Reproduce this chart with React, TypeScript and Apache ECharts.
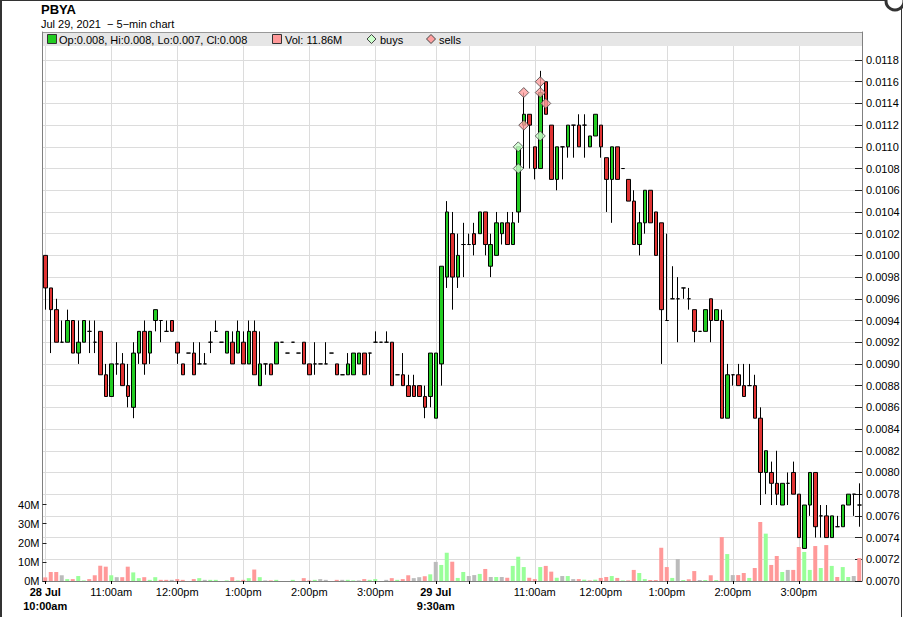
import React, { useEffect, useRef } from 'react';
import * as echarts from 'echarts';

const TITLE = 'PBYA';
const SUBTITLE = 'Jul 29, 2021  \u2212 5\u2212min chart';
const LEGEND_OHLC = 'Op:0.008, Hi:0.008, Lo:0.007, Cl:0.008';
const LEGEND_VOL = 'Vol: 11.86M';

// sessions: Jul 28 10:00am (71 bars), Jul 29 9:30am (78 bars), 5-min bars
const sessionDays = ['28 Jul', '29 Jul'];
const sessionStartMin = [600, 570];
const sessionBars = [71, 78];

const opens = [
  0.0100, 0.0097, 0.0095, 0.0092, 0.0092, 0.0094, 0.0091, 0.0092, 0.0093, 0.0092,
  0.0093, 0.0089, 0.0087, 0.0090, 0.0090, 0.0088, 0.0086, 0.0091, 0.0093, 0.0091,
  0.0094, 0.0094, 0.0093, 0.0094, 0.0092, 0.0090, 0.0091, 0.0091, 0.0090, 0.0090,
  0.0092, 0.0093, 0.0092, 0.0091, 0.0092, 0.0091, 0.0092, 0.0090, 0.0093, 0.0088,
  0.0090, 0.0090, 0.0090, 0.0092, 0.0091, 0.0092, 0.0091, 0.0092, 0.0090, 0.0090,
  0.0090, 0.0090, 0.0091, 0.0090, 0.0089, 0.0089, 0.0089, 0.0090, 0.0091, 0.0091,
  0.0092, 0.0092, 0.0092, 0.0092, 0.0089, 0.0089, 0.0088, 0.0088, 0.0088, 0.0087,
  0.0087, 0.0085, 0.0090, 0.0098, 0.0102, 0.0098, 0.0101, 0.0101, 0.0102, 0.0102,
  0.0104, 0.0099, 0.0100, 0.0102, 0.0103, 0.0101, 0.0104, 0.0112, 0.0113, 0.0110,
  0.0108, 0.0116, 0.0112, 0.0107, 0.0110, 0.0110, 0.0112, 0.0112, 0.0112, 0.0110,
  0.0111, 0.0112, 0.0109, 0.0107, 0.0110, 0.0108, 0.0107, 0.0105, 0.0101, 0.0103,
  0.0106, 0.0104, 0.0103, 0.0094, 0.0096, 0.0096, 0.0097, 0.0096, 0.0095, 0.0093,
  0.0093, 0.0096, 0.0094, 0.0094, 0.0085, 0.0089, 0.0089, 0.0088, 0.0088, 0.0088,
  0.0085, 0.0080, 0.0080, 0.0079, 0.0077, 0.0079, 0.0080, 0.0078, 0.0073, 0.0077,
  0.0080, 0.0076, 0.0076, 0.0074, 0.0075, 0.0075, 0.0077, 0.0078, 0.0077,
];
const closes = [
  0.0097, 0.0095, 0.0092, 0.0092, 0.0094, 0.0091, 0.0092, 0.0094, 0.0093, 0.0092,
  0.0089, 0.0087, 0.0090, 0.0090, 0.0088, 0.0087, 0.0091, 0.0093, 0.0090, 0.0093,
  0.0095, 0.0094, 0.0093, 0.0093, 0.0091, 0.0089, 0.0091, 0.0089, 0.0090, 0.0090,
  0.0092, 0.0093, 0.0092, 0.0093, 0.0090, 0.0093, 0.0090, 0.0093, 0.0089, 0.0090,
  0.0090, 0.0089, 0.0092, 0.0092, 0.0091, 0.0092, 0.0091, 0.0090, 0.0089, 0.0090,
  0.0090, 0.0090, 0.0091, 0.0089, 0.0089, 0.0090, 0.0091, 0.0091, 0.0089, 0.0091,
  0.0092, 0.0092, 0.0092, 0.0088, 0.0089, 0.0088, 0.0087, 0.0087, 0.0087, 0.0086,
  0.0091, 0.0091, 0.0099, 0.0104, 0.0098, 0.0100, 0.0101, 0.0101, 0.0101, 0.0104,
  0.0101, 0.0101, 0.0103, 0.0103, 0.0101, 0.0103, 0.0110, 0.0113, 0.0112, 0.0108,
  0.0115, 0.0113, 0.0107, 0.0110, 0.0110, 0.0112, 0.0112, 0.0110, 0.0112, 0.0111,
  0.0113, 0.0110, 0.0107, 0.0110, 0.0107, 0.0108, 0.0105, 0.0101, 0.0103, 0.0106,
  0.0103, 0.0100, 0.0095, 0.0094, 0.0096, 0.0096, 0.0097, 0.0096, 0.0093, 0.0093,
  0.0095, 0.0094, 0.0095, 0.0085, 0.0089, 0.0089, 0.0088, 0.0087, 0.0088, 0.0085,
  0.0080, 0.0082, 0.0079, 0.0078, 0.0079, 0.0079, 0.0078, 0.0074, 0.0077, 0.0080,
  0.0075, 0.0076, 0.0074, 0.0076, 0.0075, 0.0077, 0.0078, 0.0078, 0.0077,
];
const lows = [
  0.0095, 0.0091, 0.0092, 0.0092, 0.0092, 0.0091, 0.0090, 0.0092, 0.0091, 0.0091,
  0.0089, 0.0087, 0.0087, 0.0089, 0.0088, 0.0086, 0.0085, 0.0090, 0.0089, 0.0090,
  0.0093, 0.0092, 0.0093, 0.0093, 0.0090, 0.0089, 0.0091, 0.0089, 0.0090, 0.0090,
  0.0091, 0.0093, 0.0092, 0.0091, 0.0090, 0.0091, 0.0090, 0.0090, 0.0089, 0.0088,
  0.0089, 0.0089, 0.0090, 0.0092, 0.0091, 0.0092, 0.0091, 0.0090, 0.0089, 0.0089,
  0.0090, 0.0090, 0.0091, 0.0089, 0.0089, 0.0089, 0.0089, 0.0090, 0.0089, 0.0089,
  0.0092, 0.0092, 0.0092, 0.0088, 0.0089, 0.0088, 0.0087, 0.0087, 0.0087, 0.0085,
  0.0086, 0.0085, 0.0088, 0.0097, 0.0095, 0.0097, 0.0098, 0.0101, 0.0100, 0.0102,
  0.0100, 0.0098, 0.0100, 0.0101, 0.0101, 0.0101, 0.0103, 0.0108, 0.0108, 0.0107,
  0.0108, 0.0113, 0.0107, 0.0106, 0.0107, 0.0109, 0.0109, 0.0110, 0.0109, 0.0110,
  0.0111, 0.0109, 0.0104, 0.0103, 0.0107, 0.0108, 0.0105, 0.0101, 0.0100, 0.0102,
  0.0103, 0.0100, 0.0090, 0.0094, 0.0096, 0.0092, 0.0096, 0.0095, 0.0092, 0.0093,
  0.0093, 0.0092, 0.0094, 0.0085, 0.0085, 0.0088, 0.0088, 0.0087, 0.0088, 0.0085,
  0.0077, 0.0078, 0.0077, 0.0077, 0.0077, 0.0077, 0.0078, 0.0074, 0.0073, 0.0076,
  0.0074, 0.0074, 0.0074, 0.0074, 0.0075, 0.0075, 0.0077, 0.0076, 0.0075,
];
const highs = [
  0.0100, 0.0097, 0.0096, 0.0094, 0.0095, 0.0094, 0.0094, 0.0094, 0.0094, 0.0094,
  0.0093, 0.0090, 0.0090, 0.0092, 0.0091, 0.0090, 0.0092, 0.0093, 0.0094, 0.0093,
  0.0095, 0.0094, 0.0094, 0.0094, 0.0092, 0.0090, 0.0091, 0.0092, 0.0092, 0.0091,
  0.0093, 0.0094, 0.0092, 0.0093, 0.0093, 0.0094, 0.0093, 0.0094, 0.0094, 0.0093,
  0.0090, 0.0090, 0.0092, 0.0092, 0.0091, 0.0092, 0.0091, 0.0092, 0.0090, 0.0092,
  0.0090, 0.0092, 0.0091, 0.0090, 0.0089, 0.0091, 0.0091, 0.0091, 0.0091, 0.0091,
  0.0093, 0.0092, 0.0093, 0.0092, 0.0089, 0.0091, 0.0089, 0.0089, 0.0088, 0.0088,
  0.0091, 0.0091, 0.0099, 0.0105, 0.0104, 0.0102, 0.0103, 0.0102, 0.0103, 0.0104,
  0.0104, 0.0102, 0.0104, 0.0103, 0.0104, 0.0104, 0.0110, 0.0115, 0.0113, 0.0110,
  0.0117, 0.0116, 0.0112, 0.0110, 0.0110, 0.0112, 0.0112, 0.0113, 0.0113, 0.0111,
  0.0113, 0.0112, 0.0109, 0.0110, 0.0110, 0.0108, 0.0107, 0.0106, 0.0104, 0.0106,
  0.0106, 0.0104, 0.0103, 0.0102, 0.0099, 0.0098, 0.0097, 0.0097, 0.0095, 0.0093,
  0.0095, 0.0096, 0.0095, 0.0095, 0.0090, 0.0089, 0.0090, 0.0090, 0.0090, 0.0089,
  0.0086, 0.0082, 0.0081, 0.0082, 0.0079, 0.0080, 0.0081, 0.0078, 0.0077, 0.0080,
  0.0080, 0.0077, 0.0077, 0.0076, 0.0076, 0.0077, 0.0078, 0.0078, 0.0079,
];
// volume in millions of shares
const volumeM = [
  1.9, 4.7, 4.7, 3.0, 1.0, 1.0, 2.6, 0.3, 1.0, 3.0,
  8.0, 7.5, 3.0, 2.0, 2.0, 7.5, 4.5, 1.5, 2.0, 0.6,
  2.0, 0.6, 0.6, 0.6, 1.0, 0.6, 0, 1.0, 1.5, 0.6,
  0.6, 0.6, 0, 0.3, 2.0, 0.3, 0.6, 1.5, 6.0, 2.0,
  0.3, 0.3, 0.6, 0, 0, 0.6, 0, 1.5, 0.3, 0.6,
  1.0, 0.6, 0, 0.6, 0.6, 0.6, 0.3, 0.3, 1.0, 0.6,
  1.0, 0, 0.6, 1.5, 0.6, 1.0, 3.0, 1.5, 2.0, 2.5,
  3.5, 10.0, 8.4, 14.8, 10.1, 1.6, 4.7, 2.6, 3.1, 3.7,
  6.3, 2.1, 2.1, 2.1, 1.7, 7.9, 12.7, 7.3, 1.7, 1.0,
  7.3, 7.9, 4.9, 1.7, 2.6, 2.6, 1.0, 1.0, 0.7, 0.3,
  0.7, 1.6, 2.1, 2.6, 1.6, 0.3, 0.3, 5.8, 4.2, 1.0,
  0.5, 0.5, 17.4, 7.3, 1.6, 11.5, 0.5, 0.9, 5.2, 0.5,
  0.5, 3.0, 0.5, 23.0, 14.1, 3.1, 3.1, 4.2, 1.6, 6.8,
  30.9, 24.8, 8.4, 13.1, 4.7, 5.8, 5.8, 17.8, 15.2, 5.8,
  18.3, 6.8, 18.8, 7.9, 2.1, 7.3, 2.1, 2.6, 12.0,
];
// trade markers: [bar index, price]
const buys = [[86, 0.0110], [86, 0.0108], [90, 0.0111]];
const sells = [[87, 0.0115], [87, 0.0112], [90, 0.0116], [90, 0.0115], [91, 0.0114]];

const priceTickLabels = { min: 0.007, step: 0.0002, lastShown: 0.0118 };
const volumeTickLabels = { max: 40, step: 10 };

const FONT = '"Liberation Sans", Arial, sans-serif';
const UP = '#22cc22';
const DOWN = '#e03333';
const VOL_UP = '#99ff99';
const VOL_DOWN = '#ff9999';
const VOL_FLAT = '#bbbbbb';

function fmtTime(m: number) {
  const h24 = Math.floor(m / 60);
  const mm = m % 60;
  const ap = h24 >= 12 ? 'pm' : 'am';
  const h = h24 > 12 ? h24 - 12 : h24;
  return `${h}:${mm < 10 ? '0' + mm : mm}${ap}`;
}

const categories: string[] = [];
const timeLabel: string[] = [];
const dayLabel: string[] = [];
const dayStart = new Set<number>();
const gridIdx = new Set<number>();
const labelIdx = new Set<number>();
sessionDays.forEach((d, s) => {
  for (let k = 0; k < sessionBars[s]; k++) {
    const idx = categories.length;
    const m = sessionStartMin[s] + k * 5;
    categories.push(`${d} ${fmtTime(m)}`);
    timeLabel.push(fmtTime(m));
    dayLabel.push(d);
    if (k === 0) {
      dayStart.add(idx);
      gridIdx.add(idx);
      labelIdx.add(idx);
    } else if (m % 60 === 0) {
      gridIdx.add(idx);
      if (k >= 12) labelIdx.add(idx);
    }
  }
});

export default function App() {
  const ref = useRef<HTMLDivElement>(null);
  useEffect(() => {
    document.body.style.margin = '0';
    const chart = echarts.init(ref.current!, null, { renderer: 'svg' });

    const candleData = opens.map((o, i) => [o, closes[i], lows[i], highs[i]]);
    const volData = volumeM.map((v, i) => {
      const prev = i > 0 ? closes[i - 1] : Infinity;
      const c = closes[i];
      const col = Math.abs(c - prev) < 1e-9 ? VOL_FLAT : c > prev ? VOL_UP : VOL_DOWN;
      return { value: v, itemStyle: { color: col } };
    });

    const gl = 42.5;
    const gr = 41;
    const option: any = {
      animation: false,
      backgroundColor: '#ffffff',
      textStyle: { fontFamily: FONT },
      grid: [
        { left: gl, right: gr, top: 32, bottom: 36 },
        { left: gl, right: gr, top: 504.6, bottom: 36 },
      ],
      xAxis: [
        {
          type: 'category',
          gridIndex: 0,
          data: categories,
          boundaryGap: true,
          axisLine: { show: true, lineStyle: { color: '#808080', width: 1 } },
          axisTick: {
            show: true,
            interval: (i: number) => gridIdx.has(i),
            alignWithLabel: true,
            length: 3,
            lineStyle: { color: '#000' },
          },
          axisLabel: {
            interval: (i: number) => labelIdx.has(i),
            formatter: (_v: string, i: number) =>
              dayStart.has(i) ? `{b|${dayLabel[i]}}\n{b|${timeLabel[i]}}` : timeLabel[i],
            color: '#000',
            fontSize: 11,
            fontFamily: FONT,
            margin: 4,
            lineHeight: 14,
            rich: { b: { fontWeight: 'bold', fontSize: 11, lineHeight: 14, fontFamily: FONT, color: '#000' } },
          },
          splitLine: {
            show: true,
            interval: (i: number) => gridIdx.has(i),
            alignWithLabel: true,
            lineStyle: { color: '#dcdcdc', width: 1 },
          },
        },
        { type: 'category', gridIndex: 1, data: categories, boundaryGap: true, show: false },
      ],
      yAxis: [
        {
          type: 'value',
          gridIndex: 0,
          position: 'right',
          min: priceTickLabels.min,
          max: 0.012058,
          interval: priceTickLabels.step,
          axisLine: { show: true, lineStyle: { color: '#808080' } },
          axisTick: { show: true, inside: true, length: 7, lineStyle: { color: '#222' } },
          axisLabel: {
            color: '#000',
            fontSize: 11,
            fontFamily: FONT,
            margin: 4,
            formatter: (v: number) => (v > priceTickLabels.lastShown + 1e-7 ? '' : v.toFixed(4)),
          },
          splitLine: { show: true, lineStyle: { color: '#dcdcdc', width: 1 } },
        },
        {
          type: 'value',
          gridIndex: 0,
          position: 'left',
          min: 0,
          max: 1,
          axisLine: { show: true, onZero: false, lineStyle: { color: '#808080' } },
          axisTick: { show: false },
          axisLabel: { show: false },
          splitLine: { show: false },
        },
        {
          type: 'value',
          gridIndex: 1,
          position: 'left',
          min: 0,
          max: volumeTickLabels.max,
          interval: volumeTickLabels.step,
          axisLine: { show: false },
          axisTick: { show: true, inside: true, length: 4, lineStyle: { color: '#222' } },
          axisLabel: {
            color: '#000',
            fontSize: 11,
            fontFamily: FONT,
            margin: 3,
            formatter: (v: number) => `${v}M`,
          },
          splitLine: { show: false },
        },
      ],
      series: [
        {
          name: 'volume',
          type: 'bar',
          xAxisIndex: 1,
          yAxisIndex: 2,
          data: volData,
          barWidth: 4,
          z: 1,
        },
        {
          name: 'price',
          type: 'candlestick',
          xAxisIndex: 0,
          yAxisIndex: 0,
          data: candleData,
          barWidth: 4,
          z: 3,
          itemStyle: {
            color: UP,
            color0: DOWN,
            borderColor: '#000',
            borderColor0: '#000',
            borderColorDoji: '#000',
            borderWidth: 1,
          },
        },
        {
          name: 'buys',
          type: 'scatter',
          xAxisIndex: 0,
          yAxisIndex: 0,
          data: buys,
          symbol: 'diamond',
          symbolSize: 10,
          z: 4,
          itemStyle: { color: '#ccffcc', borderColor: '#444', borderWidth: 1 },
        },
        {
          name: 'sells',
          type: 'scatter',
          xAxisIndex: 0,
          yAxisIndex: 0,
          data: sells,
          symbol: 'diamond',
          symbolSize: 10,
          z: 4,
          itemStyle: { color: '#ffa0a0', borderColor: '#444', borderWidth: 1 },
        },
      ],
      graphic: [
        { type: 'line', shape: { x1: 1, y1: 0, x2: 1, y2: 617 }, style: { stroke: '#333', lineWidth: 2 } },
        { type: 'line', shape: { x1: 0, y1: 0.5, x2: 903, y2: 0.5 }, style: { stroke: '#333', lineWidth: 1 } },
        { type: 'line', shape: { x1: 901.5, y1: 6, x2: 901.5, y2: 617 }, style: { stroke: '#333', lineWidth: 1 } },
        { type: 'circle', shape: { cx: 895, cy: 1, r: 9 }, style: { fill: '#ffffff', stroke: '#333', lineWidth: 3 } },
        { type: 'text', x: 41, y: 9, style: { text: TITLE, font: `bold 13px ${FONT}`, fill: '#000', verticalAlign: 'middle' } },
        { type: 'text', x: 41, y: 24, style: { text: SUBTITLE, font: `11px ${FONT}`, fill: '#000', verticalAlign: 'middle' } },
        { type: 'rect', z: 10, shape: { x: 43, y: 32, width: 819, height: 14 }, style: { fill: '#e6e6e6' } },
        { type: 'line', z: 11, shape: { x1: 43, y1: 32.5, x2: 862, y2: 32.5 }, style: { stroke: '#999', lineWidth: 1 } },
        { type: 'rect', z: 11, shape: { x: 47.5, y: 34.5, width: 9, height: 9 }, style: { fill: UP, stroke: '#333', lineWidth: 1 } },
        { type: 'text', z: 11, x: 59, y: 39.5, style: { text: LEGEND_OHLC, font: `11px ${FONT}`, fill: '#000', verticalAlign: 'middle' } },
        { type: 'rect', z: 11, shape: { x: 272.5, y: 34.5, width: 9, height: 9 }, style: { fill: VOL_DOWN, stroke: '#333', lineWidth: 1 } },
        { type: 'text', z: 11, x: 285, y: 39.5, style: { text: LEGEND_VOL, font: `11px ${FONT}`, fill: '#000', verticalAlign: 'middle' } },
        { type: 'polygon', z: 11, shape: { points: [[371.5, 34.5], [376, 39], [371.5, 43.5], [367, 39]] }, style: { fill: '#ccffcc', stroke: '#444', lineWidth: 1 } },
        { type: 'text', z: 11, x: 380, y: 39.5, style: { text: 'buys', font: `11px ${FONT}`, fill: '#000', verticalAlign: 'middle' } },
        { type: 'polygon', z: 11, shape: { points: [[431, 34.5], [435.5, 39], [431, 43.5], [426.5, 39]] }, style: { fill: '#ffa0a0', stroke: '#444', lineWidth: 1 } },
        { type: 'text', z: 11, x: 439, y: 39.5, style: { text: 'sells', font: `11px ${FONT}`, fill: '#000', verticalAlign: 'middle' } },
      ],
    };
    chart.setOption(option);
    return () => chart.dispose();
  }, []);
  return <div ref={ref} style={{ width: 903, height: 617, background: '#fff' }} />;
}
